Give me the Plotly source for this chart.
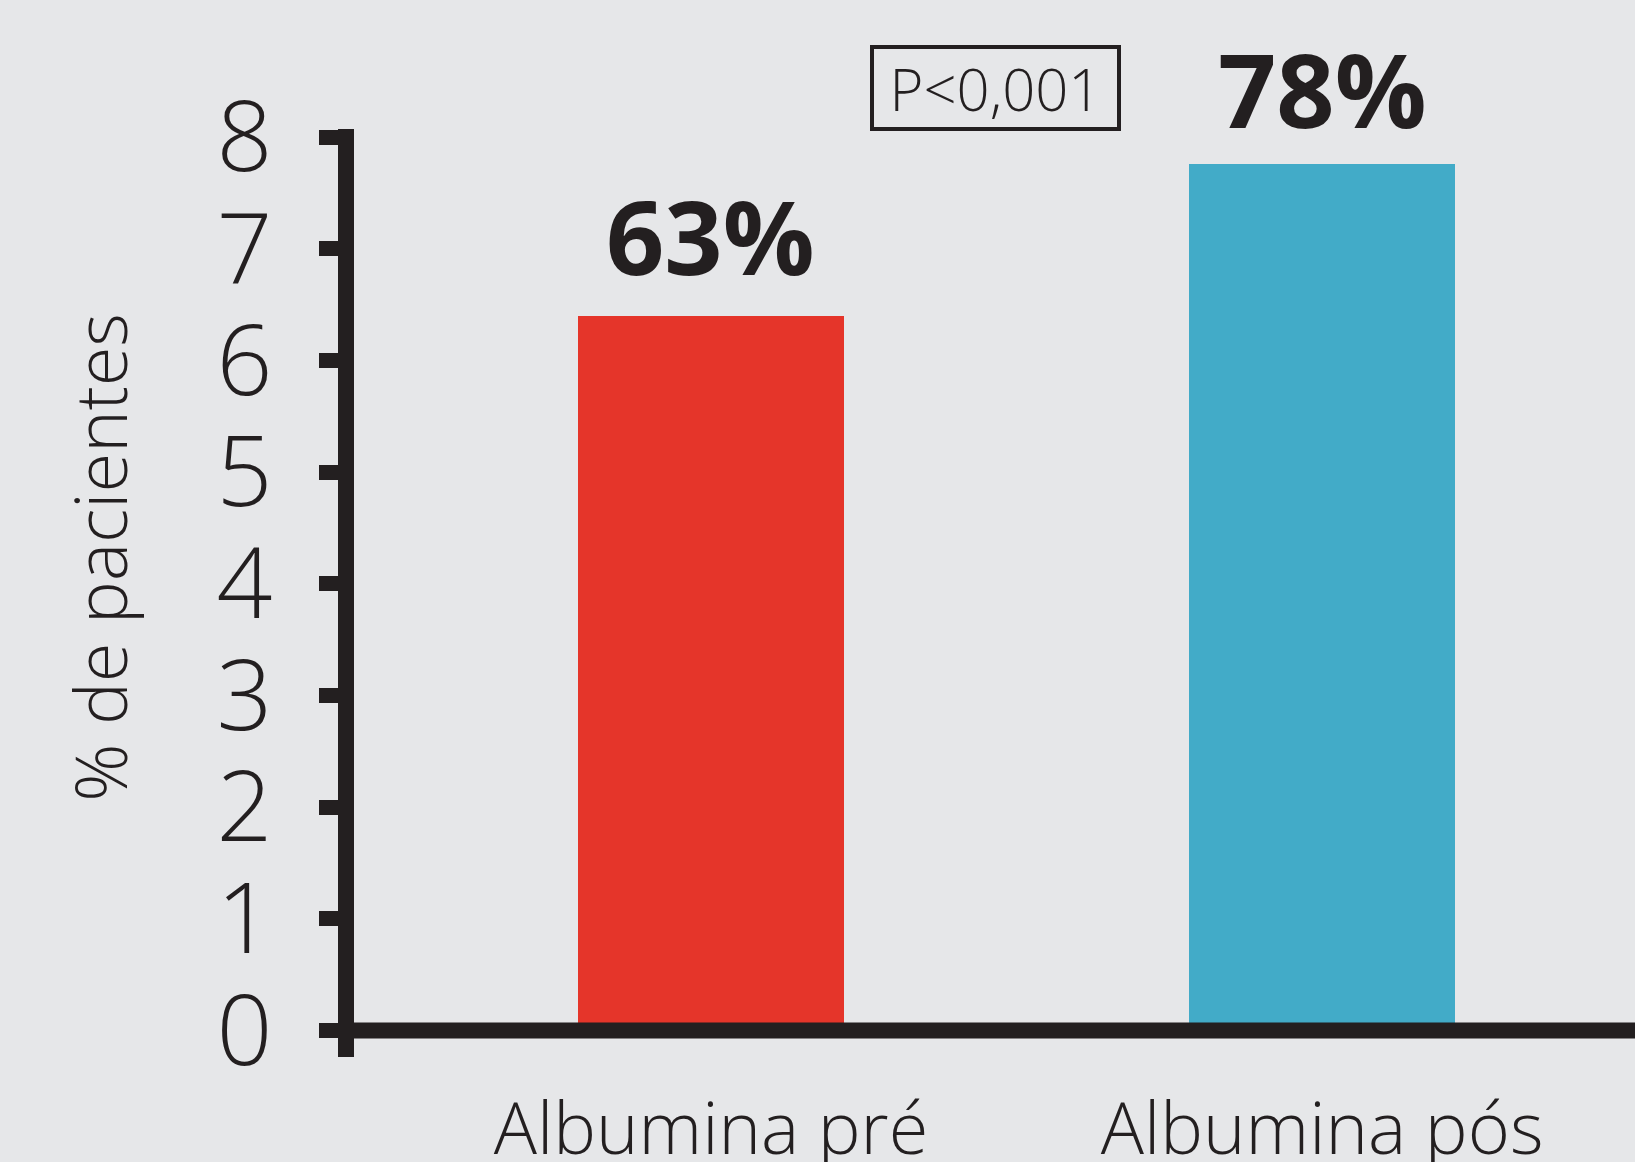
import plotly.graph_objects as go

categories = ["Albumina pré", "Albumina pós"]
values = [6.4, 7.76]
value_labels = ["63%", "78%"]
bar_colors = ["#e5352a", "#42abc8"]
y_ticks = [0, 1, 2, 3, 4, 5, 6, 7, 8]
y_title = "% de pacientes"
p_text = "P<0,001"

INK = "#231f20"
BG = "#e6e7e9"
FONT = "Open Sans"
label_shifts = [9, 4]

fig = go.Figure()
fig.add_trace(go.Bar(
    x=categories, y=values,
    marker=dict(color=bar_colors, line=dict(width=0)),
    width=0.435,
    hoverinfo="skip",
))

for cat, val, lab, sh in zip(categories, values, value_labels, label_shifts):
    fig.add_annotation(
        x=cat, y=val, xref="x", yref="y",
        text=lab, showarrow=False, yanchor="bottom", yshift=sh,
        font=dict(family=FONT, size=102, color=INK, weight="bold"),
    )

fig.add_annotation(
    x=0.501, y=1.044, xref="paper", yref="paper",
    text=p_text, showarrow=False, xanchor="center", yanchor="middle",
    font=dict(family=FONT, size=58, color=INK, weight=300),
    bordercolor=INK, borderwidth=4, borderpad=2,
    width=239, height=74,
)

# y-axis title, placed like the reference (slightly above the axis centre)
fig.add_annotation(
    x=-0.199, y=0.538, xref="paper", yref="paper",
    text=y_title, showarrow=False, textangle=-90,
    xanchor="center", yanchor="middle",
    font=dict(family=FONT, size=72, color=INK, weight=300),
)

# zero baseline drawn above the bars
fig.add_shape(type="line", xref="paper", yref="y", x0=0, x1=1, y0=0, y1=0,
              line=dict(color=INK, width=16), layer="above")

fig.update_layout(
    width=1635, height=1162,
    paper_bgcolor=BG, plot_bgcolor=BG,
    margin=dict(l=354, r=0, t=129, b=105, autoexpand=False),
    showlegend=False,
    bargap=0,
)
fig.update_xaxes(
    range=[-0.584, 1.512],
    showline=False, showgrid=False, zeroline=False, ticks="",
    tickfont=dict(family=FONT, size=72, color=INK, weight=300),
    ticklabelstandoff=24,
)
fig.update_yaxes(
    range=[-0.2373, 8.0716],
    tickvals=y_ticks, ticktext=[str(v) for v in y_ticks],
    showline=True, linecolor=INK, linewidth=16,
    ticks="outside", ticklen=19, tickwidth=15, tickcolor=INK,
    showgrid=False, zeroline=False,
    tickfont=dict(family=FONT, size=98, color=INK, weight=300),
    ticklabelstandoff=27,
)

fig.write_html(
    "out.html",
    config={"displayModeBar": False, "staticPlot": True},
    post_script="document.body.style.margin='0';document.body.style.overflow='hidden';",
)
